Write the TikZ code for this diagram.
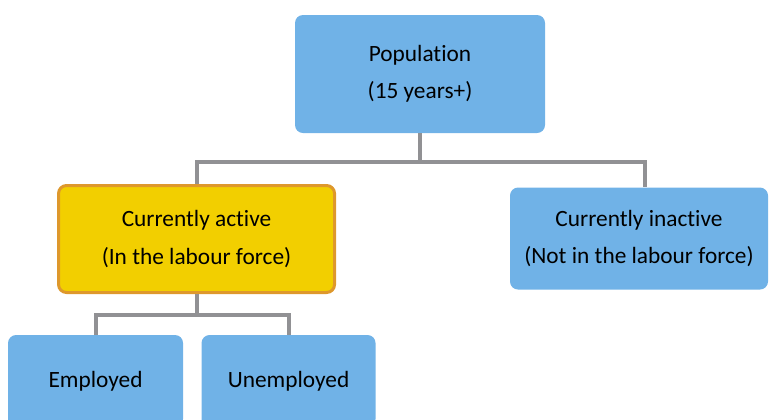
\documentclass[tikz,border=0pt]{standalone}
\usepackage{fontspec}
\setmainfont{Carlito}[Ligatures=NoCommon]
\usetikzlibrary{positioning}

\definecolor{boxblue}{RGB}{112,178,231}
\definecolor{activeyellow}{RGB}{242,207,0}
\definecolor{activeorange}{RGB}{222,152,44}
\definecolor{linkgray}{RGB}{145,145,148}

\tikzset{
  group/.style={rectangle, rounded corners=6pt, fill=boxblue, align=center,
    font=\fontsize{17.5}{28}\selectfont, inner sep=0pt},
  link/.style={draw=linkgray, line width=3pt}
}

\begin{document}
\begin{tikzpicture}[on grid]
				\useasboundingbox (0,0) rectangle (577.5pt,-314.25pt);
				\node[group, minimum width=187.5pt, minimum height=88.5pt] (pop) at (315pt,-55.5pt) {Population\\(15 years+)};
				\node[group, fill=activeyellow, draw=activeorange, line width=2.25pt, minimum width=207pt, minimum height=80.25pt, below left=123.75pt and 167.6pt of pop] (active) {Currently active\\(In the labour force)};
				\node[group, minimum width=193.5pt, minimum height=76.5pt, below right=123.4pt and 164.25pt of pop] (inactive) {Currently inactive\\(Not in the labour force)};
				\node[group, minimum width=131.25pt, minimum height=69pt, below left=106.5pt and 75.75pt of active] (employed) {Employed};
				\node[group, minimum width=130.5pt, minimum height=69pt, right=144.75pt of employed] (unemployed) {Unemployed};
				\coordinate[below=21.75pt of pop.south] (popjoin);
				\coordinate[below=15.75pt of active.south] (activejoin);
				\path[link] (pop.south) -- (popjoin)
					(active.north) |- (popjoin) -| ([xshift=4.5pt]inactive.north)
					(active.south) -- (activejoin)
					(employed.north) |- (activejoin) -| (unemployed.north);
			\end{tikzpicture}
\end{document}
